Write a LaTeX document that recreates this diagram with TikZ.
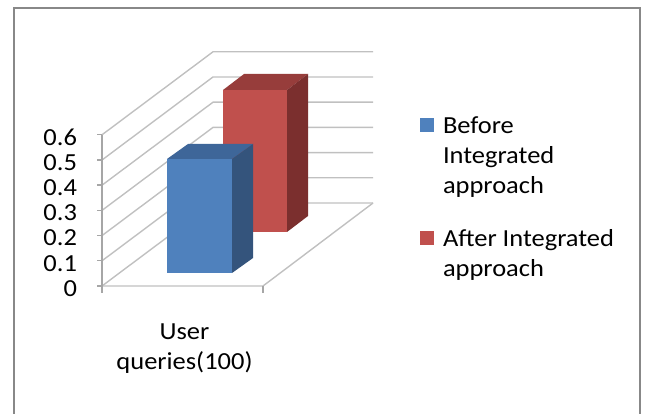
\documentclass[tikz,border=0pt]{standalone}
\usepackage{fontspec}
\usetikzlibrary{calc}
\newfontfamily\chartfont[FakeStretch=1.08]{Carlito}
\definecolor{framegray}{HTML}{888888}
\definecolor{gridgray}{HTML}{C0C0C0}
\definecolor{axisgray}{HTML}{A6A6A6}
\definecolor{bluefront}{HTML}{4F81BD}
\definecolor{blueside}{HTML}{34547C}
\definecolor{bluetop}{HTML}{3E6699}
\definecolor{redfront}{HTML}{C0504D}
\definecolor{redside}{HTML}{7B2F2E}
\definecolor{redtop}{HTML}{973D3B}
\tikzset{
  gridline/.style={draw=gridgray, line width=1.4pt},
  axisline/.style={draw=axisgray, line width=1.4pt},
  lbl/.style={font={\chartfont\fontsize{24.5}{30}\selectfont}, inner sep=0pt, outer sep=0pt},
  legsq/.style={inner sep=0pt, minimum size=14pt},
}
\begin{document}
\begin{tikzpicture}[x=1pt,y=-1pt]
\useasboundingbox (0,0) rectangle (646,414);
% frame
\draw[framegray, line width=2pt] (13.5,416) -- (13.5,7.8) -- (639.5,7.8) -- (639.5,416);
% grid: diagonal side wall lines and back wall lines
\foreach \i in {0,...,6}{
  \pgfmathsetmacro{\yy}{286-25.2*\i}
  \coordinate (l\i) at (102,\yy);
  \coordinate (b\i) at (213,\yy-83);
  \coordinate (r\i) at (373,\yy-83);
  \draw[gridline] (l\i) -- (b\i) -- (r\i);
  \draw[axisline] (l\i) -- ++(-5,0);
}
% floor
\coordinate (l0) at (102,286);
\coordinate (l6) at (102,134.8);
\coordinate (r0) at (373,203);
\coordinate (f1) at (263,286);
\coordinate (f0) at (102,293);
\draw[gridline] (l0) -- (f1) -- (r0);
\draw[axisline] (f1) -- ++(0,7);
\draw[axisline] (l6) -- (f0);
% y labels
\foreach \i/\t in {0/0,1/0.1,2/0.2,3/0.3,4/0.4,5/0.5,6/0.6}{
  \node[lbl, anchor=east] (y\i) at (77,288.5-25.2*\i) {\t};
}
% red bar (behind)
\coordinate (ra) at (223,90); \coordinate (rb) at (287,90);
\coordinate (rc) at (287,232); \coordinate (rd) at (223,232);
\fill[redtop] (ra) -- ++(21,-16) -- ($(rb)+(21,-16)$) -- (rb) -- cycle;
\fill[redside] (rb) -- ++(21,-16) -- ($(rc)+(21,-16)$) -- (rc) -- cycle;
\fill[redfront] (ra) rectangle (rc);
% blue bar (front)
\coordinate (ba) at (167,159); \coordinate (bb) at (232,159);
\coordinate (bc) at (232,273); \coordinate (bd) at (167,273);
\fill[bluetop] (ba) -- ++(21,-15) -- ($(bb)+(21,-15)$) -- (bb) -- cycle;
\fill[blueside] (bb) -- ++(21,-15) -- ($(bc)+(21,-15)$) -- (bc) -- cycle;
\fill[bluefront] (ba) rectangle (bc);
% category label
\node[lbl, align=center, anchor=north] (cat) at (184.5,324) {User\\queries(100)};
% legend
\node[legsq, fill=bluefront, anchor=north west] (k1) at (420,118) {};
\node[lbl, align=left, anchor=north west] (t1) at (443,117) {Before\\Integrated\\approach};
\node[legsq, fill=redfront, anchor=north west] (k2) at (420,231) {};
\node[lbl, align=left, anchor=north west] (t2) at (443,229) {After Integrated\\approach};
\end{tikzpicture}
\end{document}
